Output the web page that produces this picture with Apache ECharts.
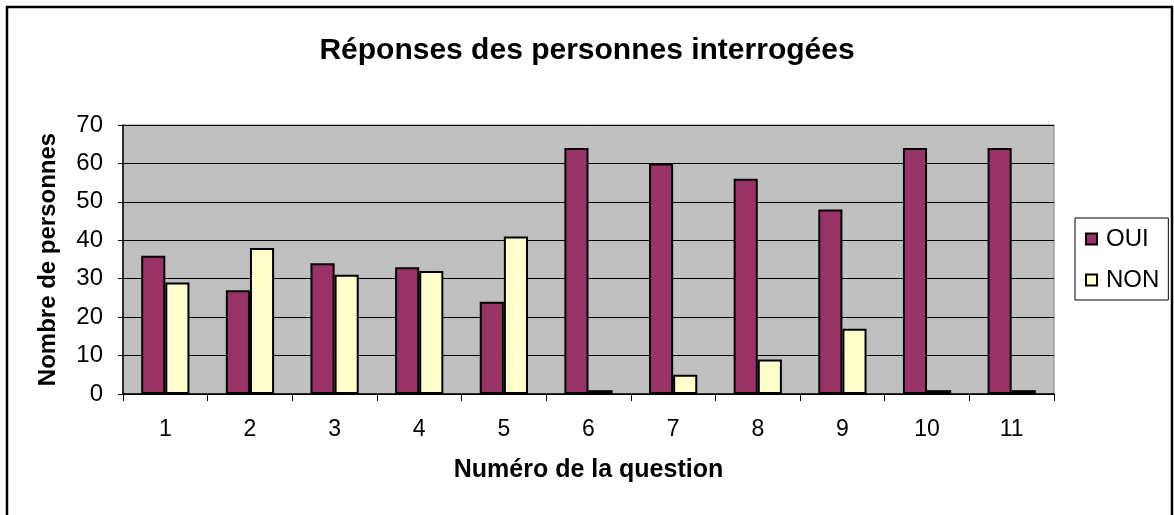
<!DOCTYPE html>
<html>
<head>
<meta charset="utf-8">
<script src="https://cdn.jsdelivr.net/npm/echarts@6/dist/echarts.min.js"></script>
<style>
  html, body { margin: 0; padding: 0; background: #fff; }
  #chart { width: 1174px; height: 515px; }
</style>
</head>
<body>
<div id="chart"></div>
<script>
// données
const questions = ['1', '2', '3', '4', '5', '6', '7', '8', '9', '10', '11'];
const oui = [36, 27, 34, 33, 24, 64, 60, 56, 48, 64, 64];
const non = [29, 38, 31, 32, 41, 1, 5, 9, 17, 1, 1];

const FONT = 'Liberation Sans, Arial, sans-serif';

const chart = echarts.init(document.getElementById('chart'));

chart.setOption({
    backgroundColor: '#fff',
    animation: false,
    textStyle: { fontFamily: FONT },
    title: {
        text: 'Réponses des personnes interrogées',
        left: 'center',
        top: 31,
        textStyle: { fontFamily: FONT, fontSize: 30, fontWeight: 'bold', color: '#000' }
    },
    // cadre du graphique
    graphic: [{
        type: 'rect',
        shape: { x: 7, y: 7, width: 1165, height: 520 },
        style: { fill: 'none', stroke: '#000', lineWidth: 2.5 },
        z: 100
    }],
    legend: {
        orient: 'vertical',
        left: 1075,
        top: 218,
        padding: [9, 9, 8, 10],
        itemGap: 17,
        itemWidth: 11,
        itemHeight: 11,
        icon: 'rect',
        borderColor: '#000',
        borderWidth: 1,
        backgroundColor: '#fff',
        textStyle: { fontFamily: FONT, fontSize: 24, color: '#000', padding: [0, 0, 0, 4] },
        data: ['OUI', 'NON']
    },
    grid: {
        left: 123,
        right: 120,
        top: 125,
        bottom: 121,
        show: true,
        backgroundColor: '#C0C0C0',
        borderColor: '#808080',
        borderWidth: 1
    },
    xAxis: {
        type: 'category',
        data: questions,
        name: 'Numéro de la question',
        nameLocation: 'middle',
        nameGap: 64,
        nameTextStyle: { fontFamily: FONT, fontSize: 25, fontWeight: 'bold', color: '#000' },
        axisLine: { lineStyle: { color: '#000', width: 1.5 } },
        axisTick: { show: true, length: 7, lineStyle: { color: '#000' } },
        axisLabel: { fontFamily: FONT, fontSize: 23, color: '#000', margin: 24 },
        splitLine: { show: false }
    },
    yAxis: {
        type: 'value',
        min: 0,
        max: 70,
        interval: 10,
        name: 'Nombre de personnes',
        nameLocation: 'middle',
        nameGap: 63,
        nameTextStyle: { fontFamily: FONT, fontSize: 24, fontWeight: 'bold', color: '#000' },
        axisLine: { show: true, lineStyle: { color: '#000', width: 1.5 } },
        axisTick: { show: true, length: 5, lineStyle: { color: '#000' } },
        axisLabel: { fontFamily: FONT, fontSize: 24, color: '#000', margin: 20 },
        splitLine: { show: true, lineStyle: { color: '#000', width: 1 } }
    },
    series: [
        {
            name: 'OUI',
            type: 'bar',
            data: oui,
            barGap: '0%',
            barCategoryGap: '43%',
            itemStyle: { color: '#993366', borderColor: '#000', borderWidth: 2 }
        },
        {
            name: 'NON',
            type: 'bar',
            data: non,
            barGap: '0%',
            barCategoryGap: '43%',
            itemStyle: { color: '#FFFFCC', borderColor: '#000', borderWidth: 2 }
        }
    ]
});
</script>
</body>
</html>
